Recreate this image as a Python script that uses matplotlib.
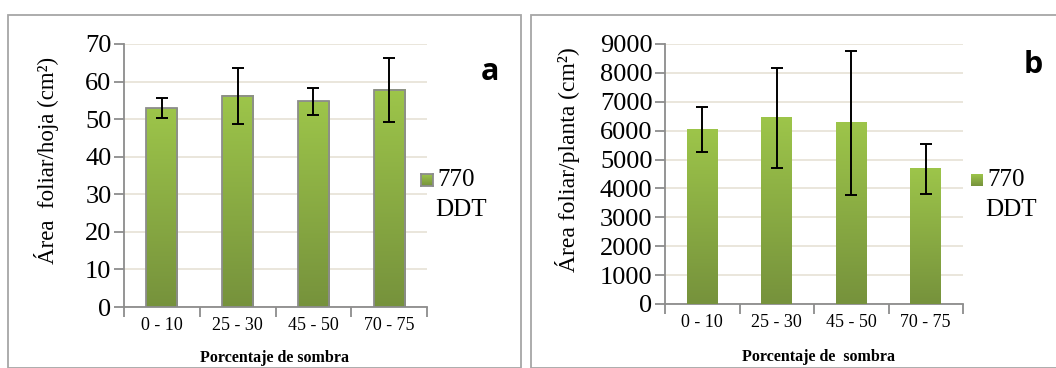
import matplotlib.pyplot as plt
import numpy as np
from matplotlib.patches import Rectangle
from matplotlib.colors import LinearSegmentedColormap

# datos
categorias = ['0 - 10', '25 - 30', '45 - 50', '70 - 75']
area_hoja = [52.9, 56.2, 54.7, 57.8]
err_hoja = [2.7, 7.5, 3.6, 8.6]
area_planta = [6030, 6440, 6270, 4680]
err_planta = [780, 1720, 2490, 860]
serie = ['770', 'DDT']

plt.rcParams['font.family'] = 'serif'
plt.rcParams['font.serif'] = ['Liberation Serif', 'DejaVu Serif']

verde = LinearSegmentedColormap.from_list('verde', ['#76923C', '#9DC54A'])
grad = np.linspace(0, 1, 256).reshape(-1, 1)

fig = plt.figure(figsize=(10.56, 3.68), dpi=100)
W, H = 1056, 368

# marcos de los paneles
fig.patches.append(Rectangle((8 / W, 0), 513 / W, 1 - 15 / H, transform=fig.transFigure,
                             fill=False, edgecolor='#A6A6A6', lw=1.3))
fig.patches.append(Rectangle((531 / W, 0), 530 / W, 1 - 15 / H, transform=fig.transFigure,
                             fill=False, edgecolor='#A6A6A6', lw=1.3))


def panel(rect, valores, errores, ymax, paso, borde):
    ax = fig.add_axes(rect)
    x = np.arange(len(categorias))
    barras = ax.bar(x, valores, width=0.41, color='none',
                    edgecolor='#8C8C8C' if borde else 'none', lw=1.3, zorder=4)
    for b in barras:
        x0, y0 = b.get_x(), b.get_y()
        ax.imshow(grad, cmap=verde, origin='lower', aspect='auto', zorder=3,
                  extent=(x0, x0 + b.get_width(), y0, y0 + b.get_height()))
    ax.errorbar(x, valores, yerr=errores, fmt='none', ecolor='black',
                elinewidth=1.4, capsize=4.5, capthick=1.4, zorder=5)
    ax.set_xlim(-0.5, len(categorias) - 0.5)
    ax.set_ylim(0, ymax)
    ax.set_yticks(np.arange(0, ymax + 1, paso))
    ax.yaxis.grid(True, color='#E6E2D6', lw=1.2)
    ax.set_axisbelow(True)
    ax.set_xticks(np.arange(-0.5, len(categorias), 1))
    ax.set_xticklabels([])
    ax.set_xticks(x, minor=True)
    ax.set_xticklabels(categorias, minor=True, fontsize=13)
    ax.tick_params(axis='x', which='minor', length=0, pad=7)
    ax.tick_params(axis='x', which='major', length=7, color='#8C8C8C', width=1.3)
    ax.tick_params(axis='y', length=7, color='#8C8C8C', width=1.3, labelsize=19, pad=2)
    for s in ['top', 'right']:
        ax.spines[s].set_visible(False)
    for s in ['left', 'bottom']:
        ax.spines[s].set_color('#8C8C8C')
        ax.spines[s].set_linewidth(1.3)
    return ax


ax1 = panel([124 / W, 1 - 307 / H, 303 / W, 263 / H], area_hoja, err_hoja, 70, 10, True)
ax2 = panel([665 / W, 1 - 304 / H, 298 / W, 260 / H], area_planta, err_planta, 9000, 1000, False)

# etiquetas de ejes
fig.text(47 / W, 1 - 160 / H, 'Área  foliar/hoja (cm²)', rotation=90, fontsize=16.5,
         ha='center', va='center')
fig.text(568 / W, 1 - 160 / H, 'Área foliar/planta (cm²)', rotation=90, fontsize=17,
         ha='center', va='center')
fig.text(275 / W, 1 - 358 / H, 'Porcentaje de sombra', fontsize=11.5, fontweight='bold',
         ha='center', va='center')
fig.text(818 / W, 1 - 357 / H, 'Porcentaje de  sombra', fontsize=11.5, fontweight='bold',
         ha='center', va='center')

# letras de panel
fig.text(490 / W, 1 - 72 / H, 'a', fontsize=22, fontweight='bold', family='Open Sans',
         ha='center', va='center')
fig.text(1033 / W, 1 - 65 / H, 'b', fontsize=22, fontweight='bold', family='Open Sans',
         ha='center', va='center')

# leyendas
for xs, borde in [(421, True), (971, False)]:
    ax_l = fig.add_axes([xs / W, 1 - 186 / H, 12 / W, 12 / H])
    ax_l.imshow(grad, cmap=verde, origin='lower', aspect='auto', extent=(0, 1, 0, 1))
    ax_l.set_xticks([])
    ax_l.set_yticks([])
    for s in ax_l.spines.values():
        s.set_visible(borde)
        s.set_color('#8C8C8C')
        s.set_linewidth(1.3)
    fig.text((xs + 16) / W, 1 - 180 / H, serie[0], fontsize=18, va='center')
    fig.text((xs + 14) / W, 1 - 210 / H, serie[1], fontsize=18, va='center')

fig.savefig('out.png', dpi=100)
